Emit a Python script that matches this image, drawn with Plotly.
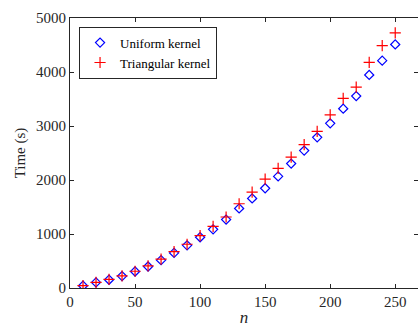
import plotly.graph_objects as go

n = [10, 20, 30, 40, 50, 60, 70, 80, 90, 100, 110, 120, 130, 140, 150, 160, 170, 180, 190, 200, 210, 220, 230, 240, 250]
uniform = [42, 103, 153, 221, 306, 398, 515, 650, 790, 940, 1086, 1268, 1473, 1658, 1847, 2066, 2305, 2545, 2790, 3050, 3320, 3555, 3945, 4210, 4510]
triangular = [45, 105, 160, 225, 310, 410, 535, 672, 810, 970, 1140, 1315, 1560, 1775, 2015, 2215, 2425, 2655, 2900, 3205, 3512, 3720, 4180, 4490, 4725]
x_ticks = [0, 50, 100, 150, 200, 250]
y_ticks = [0, 1000, 2000, 3000, 4000, 5000]

FONT = "Liberation Serif, Times New Roman, serif"
AX = "#262626"

fig = go.Figure()
fig.add_trace(go.Scatter(
    x=n, y=uniform, mode="markers", name="Uniform kernel",
    marker=dict(symbol="diamond-open", size=7, color="#0000ff", line=dict(width=1.2, color="#0000ff")),
))
fig.add_trace(go.Scatter(
    x=n, y=triangular, mode="markers", name="Triangular kernel",
    marker=dict(symbol="cross-thin-open", size=8, color="#ff0000", line=dict(width=1.2, color="#ff0000")),
))

fig.update_layout(
    width=418, height=327,
    margin=dict(l=70, r=0, t=18, b=39),
    paper_bgcolor="white", plot_bgcolor="white",
    font=dict(family=FONT, size=15, color=AX),
    showlegend=True,
    legend=dict(
        x=0.026, y=0.968, xanchor="left", yanchor="top",
        bgcolor="white", bordercolor=AX, borderwidth=1,
        font=dict(family=FONT, size=13, color="black"),
        tracegroupgap=0, itemwidth=30,
    ),
)
fig.update_xaxes(
    range=[0, 267.5], tickvals=x_ticks, ticktext=[str(v) for v in x_ticks],
    ticks="inside", ticklen=4, tickcolor=AX, showline=True, linecolor=AX, linewidth=1,
    mirror="allticks", showgrid=False, zeroline=False,
    title=dict(text="<i>n</i>", font=dict(family=FONT, size=17, color=AX), standoff=7),
    automargin=False,
)
fig.update_yaxes(
    range=[0, 5000], tickvals=y_ticks, ticktext=[str(v) for v in y_ticks],
    ticks="inside", ticklen=4, tickcolor=AX, showline=True, linecolor=AX, linewidth=1,
    mirror="allticks", showgrid=False, zeroline=False,
    title=dict(text="Time (s)", font=dict(family=FONT, size=15, color=AX), standoff=6),
    automargin=False,
)

fig.write_html("out.html")
